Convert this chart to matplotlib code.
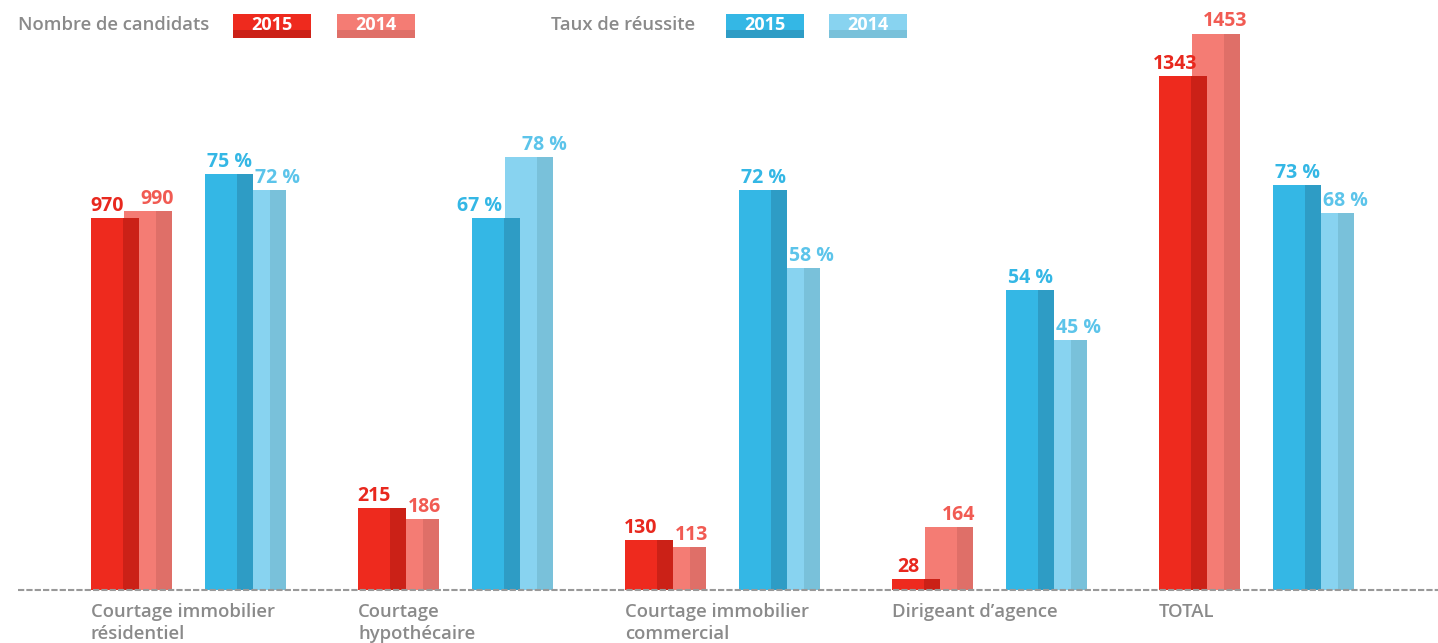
"""Candidats et taux de réussite par examen, 2015 vs 2014."""

import matplotlib

matplotlib.use("Agg")
import matplotlib.pyplot as plt
from matplotlib.patches import Rectangle

categories = [
    "Courtage immobilier\nrésidentiel",
    "Courtage\nhypothécaire",
    "Courtage immobilier\ncommercial",
    "Dirigeant d\u2019agence",
    "TOTAL",
]
candidats_2015 = [970, 215, 130, 28, 1343]
candidats_2014 = [990, 186, 113, 164, 1453]
reussite_2015 = [75, 67, 72, 54, 73]
reussite_2014 = [72, 78, 58, 45, 68]

RED = "#ee2a1e"
RED_DARK = "#cb2117"
PINK = "#f47c74"
PINK_DARK = "#df6f68"
BLUE = "#34b7e5"
BLUE_DARK = "#2e9cc5"
LBLUE = "#88d3f0"
LBLUE_DARK = "#79c1da"
GREY = "#8a8a8a"

W_PX, H_PX = 1438, 643
STEP = 267.0  # pixels between groups
BAR_W = 48 / STEP
DARK_W = 16 / STEP
BACK_OFF = 33 / STEP
BLUE_OFF = 114 / STEP

plt.rcParams["font.family"] = ["Open Sans", "DejaVu Sans"]


def draw_bar(axis, x, h, color, dark, z):
    axis.bar(x, h, width=BAR_W, align="edge", color=color, zorder=z, linewidth=0)
    axis.bar(x + BAR_W - DARK_W, h, width=DARK_W, align="edge", color=dark,
             zorder=z + 0.5, linewidth=0)


def label(axis, x, h, text, color, ha="center"):
    axis.annotate(text, xy=(x, h), xytext=(0, 1.5), textcoords="offset points",
                  ha=ha, va="bottom", color=color, fontsize=14, fontweight="bold")


def fig_xy(x, y):
    return x / W_PX, 1 - y / H_PX


fig = plt.figure(figsize=(W_PX / 100, H_PX / 100), dpi=100)
base = 590
ax = fig.add_axes([0, (H_PX - base) / H_PX, 1, base / H_PX])
ax2 = ax.twinx()

left = -91 / STEP
ax.set_xlim(left, left + W_PX / STEP)
ax.set_ylim(0, base / 0.383)
ax2.set_ylim(0, base / 5.55)
for a in (ax, ax2):
    a.axis("off")

for i, cat in enumerate(categories):
    x_red = i
    x_blue = i + BLUE_OFF

    draw_bar(ax, x_red + BACK_OFF, candidats_2014[i], PINK, PINK_DARK, 1)
    draw_bar(ax, x_red, candidats_2015[i], RED, RED_DARK, 3)
    draw_bar(ax2, x_blue + BACK_OFF, reussite_2014[i], LBLUE, LBLUE_DARK, 1)
    draw_bar(ax2, x_blue, reussite_2015[i], BLUE, BLUE_DARK, 3)

    label(ax, x_red + (BAR_W - DARK_W) / 2, candidats_2015[i],
          str(candidats_2015[i]), "#e8281e")
    label(ax, x_red + BAR_W + (BACK_OFF + BAR_W - BAR_W) / 2 + 2 / STEP,
          candidats_2014[i], str(candidats_2014[i]), "#f15b53")
    # 2015 rate label moves left when the taller 2014 bar is next to it
    if reussite_2014[i] > reussite_2015[i]:
        label(ax2, x_blue + BAR_W - DARK_W - 2 / STEP, reussite_2015[i],
              f"{reussite_2015[i]} %", BLUE, ha="right")
    else:
        label(ax2, x_blue + 2 / STEP, reussite_2015[i], f"{reussite_2015[i]} %",
              BLUE, ha="left")
    label(ax2, x_blue + BAR_W + 2 / STEP, reussite_2014[i],
          f"{reussite_2014[i]} %", "#5cc4ea", ha="left")

    ax.annotate(cat, xy=(x_red, 0), xytext=(0, -9.5), textcoords="offset points",
                ha="left", va="top", color=GREY, fontsize=13.3,
                fontweight="semibold", linespacing=1.3, annotation_clip=False)

ax2.axhline(0, xmin=18 / W_PX, xmax=1, color="#999999", lw=1.5,
            linestyle=(0, (3, 1)), zorder=10, clip_on=False)

# legend
legend_items = [
    ("Nombre de candidats", 18, [(233, RED, RED_DARK, "2015"),
                                 (337, PINK, PINK_DARK, "2014")]),
    ("Taux de réussite", 551, [(726, BLUE, BLUE_DARK, "2015"),
                               (829, LBLUE, LBLUE_DARK, "2014")]),
]
for title, tx, boxes in legend_items:
    fig.text(*fig_xy(tx, 30), title, ha="left", va="baseline", color=GREY,
             fontsize=13.3, fontweight="semibold")
    for bx, col, dark, year in boxes:
        fig.add_artist(Rectangle(fig_xy(bx, 38), 78 / W_PX, 24 / H_PX,
                                 transform=fig.transFigure, color=col, lw=0))
        fig.add_artist(Rectangle(fig_xy(bx, 38), 78 / W_PX, 8 / H_PX,
                                 transform=fig.transFigure, color=dark, lw=0))
        fig.text(*fig_xy(bx + 39, 29.5), year, ha="center", va="baseline",
                 color="white", fontsize=13, fontweight="bold")

fig.savefig("out.png", dpi=100)
